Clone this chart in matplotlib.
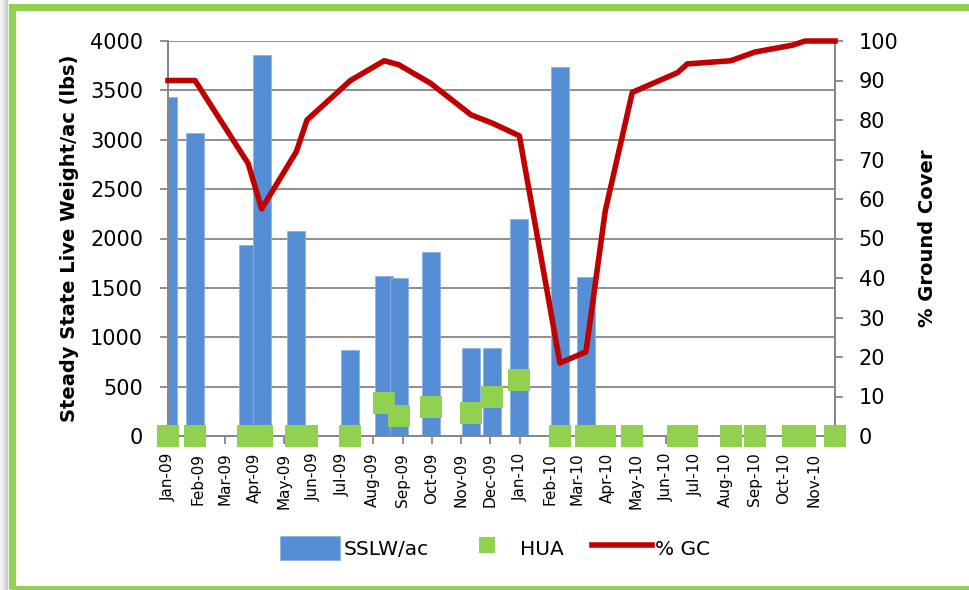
import numpy as np
import matplotlib
matplotlib.use("Agg")
import matplotlib.pyplot as plt
import matplotlib.dates as mdates
from matplotlib.patches import Patch, Rectangle
from matplotlib.lines import Line2D

# sample dates
dates = ["2009-01-01", "2009-01-29", "2009-03-25", "2009-04-08", "2009-05-14",
         "2009-05-25", "2009-07-09", "2009-08-13", "2009-08-28", "2009-09-30",
         "2009-11-11", "2009-12-03", "2009-12-31", "2010-02-11", "2010-03-10",
         "2010-03-30", "2010-04-27", "2010-06-13", "2010-06-23", "2010-08-07",
         "2010-09-01", "2010-10-11", "2010-10-23", "2010-11-23"]

# steady state live weight per acre (lbs), nan = no bar
sslw = [3430, 3065, 1937, 3855, 2079, np.nan, 868, 1617, 1597, 1860,
        888, 888, 2197, 3733, 1613, np.nan, np.nan, np.nan, np.nan, np.nan,
        np.nan, np.nan, np.nan, np.nan]

hua = [0, 0, 0, 0, 0, 0, 0, 8.3, 5.1, 7.4, 5.9, 9.9, 14.2,
       0, 0, 0, 0, 0, 0, 0, 0, 0, 0, 0]

gc = [90, 90, 69, 57.5, 72, 80, 90, 95, 94, 89.3, 81.3, 79.2, 76,
      18.5, 21.3, 57, 87, 92, 94.2, 95, 97.2, 99, 100, 100]

x = mdates.date2num(np.array(dates, dtype="datetime64[D]"))

W, H = 969, 590
fig = plt.figure(figsize=(W / 100, H / 100), dpi=100)
fig.patch.set_facecolor("white")

# frame + shadow
for i, a in enumerate([0.10, 0.18, 0.28, 0.40]):
    fig.patches.append(Rectangle(((2 * i) / W, 0), 2 / W, 1, transform=fig.transFigure,
                                 facecolor="#808080", alpha=a, edgecolor="none",
                                 zorder=-2))
fig.patches.append(Rectangle((11.5 / W, 1.5 / H), 1.2, 1 - 8.5 / H, transform=fig.transFigure,
                             facecolor="none", edgecolor="#92D050", linewidth=5.2,
                             zorder=-1))

ax = fig.add_axes([168 / W, 1 - 436 / H, (835 - 168) / W, (436 - 41) / H])
ax2 = ax.twinx()

grey = "#868686"
ax.bar(x, sslw, width=18.6, color="#558ED5", edgecolor="#8DB4E2", linewidth=0.6,
       zorder=2)
ax.set_ylim(0, 4000)
ax.set_yticks(np.arange(0, 4001, 500))
ax.set_axisbelow(True)
ax.grid(axis="y", color=grey, linewidth=1.3, zorder=0)

ax2.plot(x, hua, linestyle="none", marker="s", markersize=15.5, color="#92D050",
         markeredgewidth=0, clip_on=False, zorder=3)
ax2.plot(x, gc, color="#C00000", linewidth=4, zorder=4, clip_on=False)
ax2.set_ylim(0, 100)
ax2.set_yticks(np.arange(0, 101, 10))

ax.set_xlim(mdates.date2num(np.datetime64("2009-01-01")),
            mdates.date2num(np.datetime64("2010-11-23")))
ax.xaxis.set_major_locator(mdates.MonthLocator())
ax.xaxis.set_major_formatter(mdates.DateFormatter("%b-%y"))

for a in (ax, ax2):
    for s in a.spines.values():
        s.set_color(grey)
        s.set_linewidth(1.3)
    a.spines["top"].set_visible(False)

ax.tick_params(axis="x", direction="out", length=6, color=grey, width=1.3,
               labelsize=11, pad=6, labelrotation=90)
ax.tick_params(axis="y", direction="out", length=6, color=grey, width=1.3,
               labelsize=15, pad=12)
ax2.tick_params(axis="y", direction="out", length=6, color=grey, width=1.3,
                labelsize=15, pad=11)

ax.set_ylabel("Steady State Live Weight/ac (lbs)", fontsize=14, fontweight="bold",
              labelpad=8)
ax2.set_ylabel("% Ground Cover", fontsize=14, fontweight="bold", labelpad=14)

handles = [Patch(facecolor="#558ED5", edgecolor="#8DB4E2", linewidth=0.6),
           Line2D([], [], linestyle="none", marker="s", markersize=11,
                  color="#92D050", markeredgewidth=0),
           Line2D([], [], color="#C00000", linewidth=4)]
fig.legend(handles, ["SSLW/ac", "HUA", "% GC"], loc="center",
           bbox_to_anchor=(495 / W, 1 - 548 / H), ncol=3, frameon=False,
           fontsize=14.5, handlelength=3.0, handleheight=1.5, handletextpad=0.15,
           columnspacing=1.4)

fig.savefig("out.png", dpi=100)
